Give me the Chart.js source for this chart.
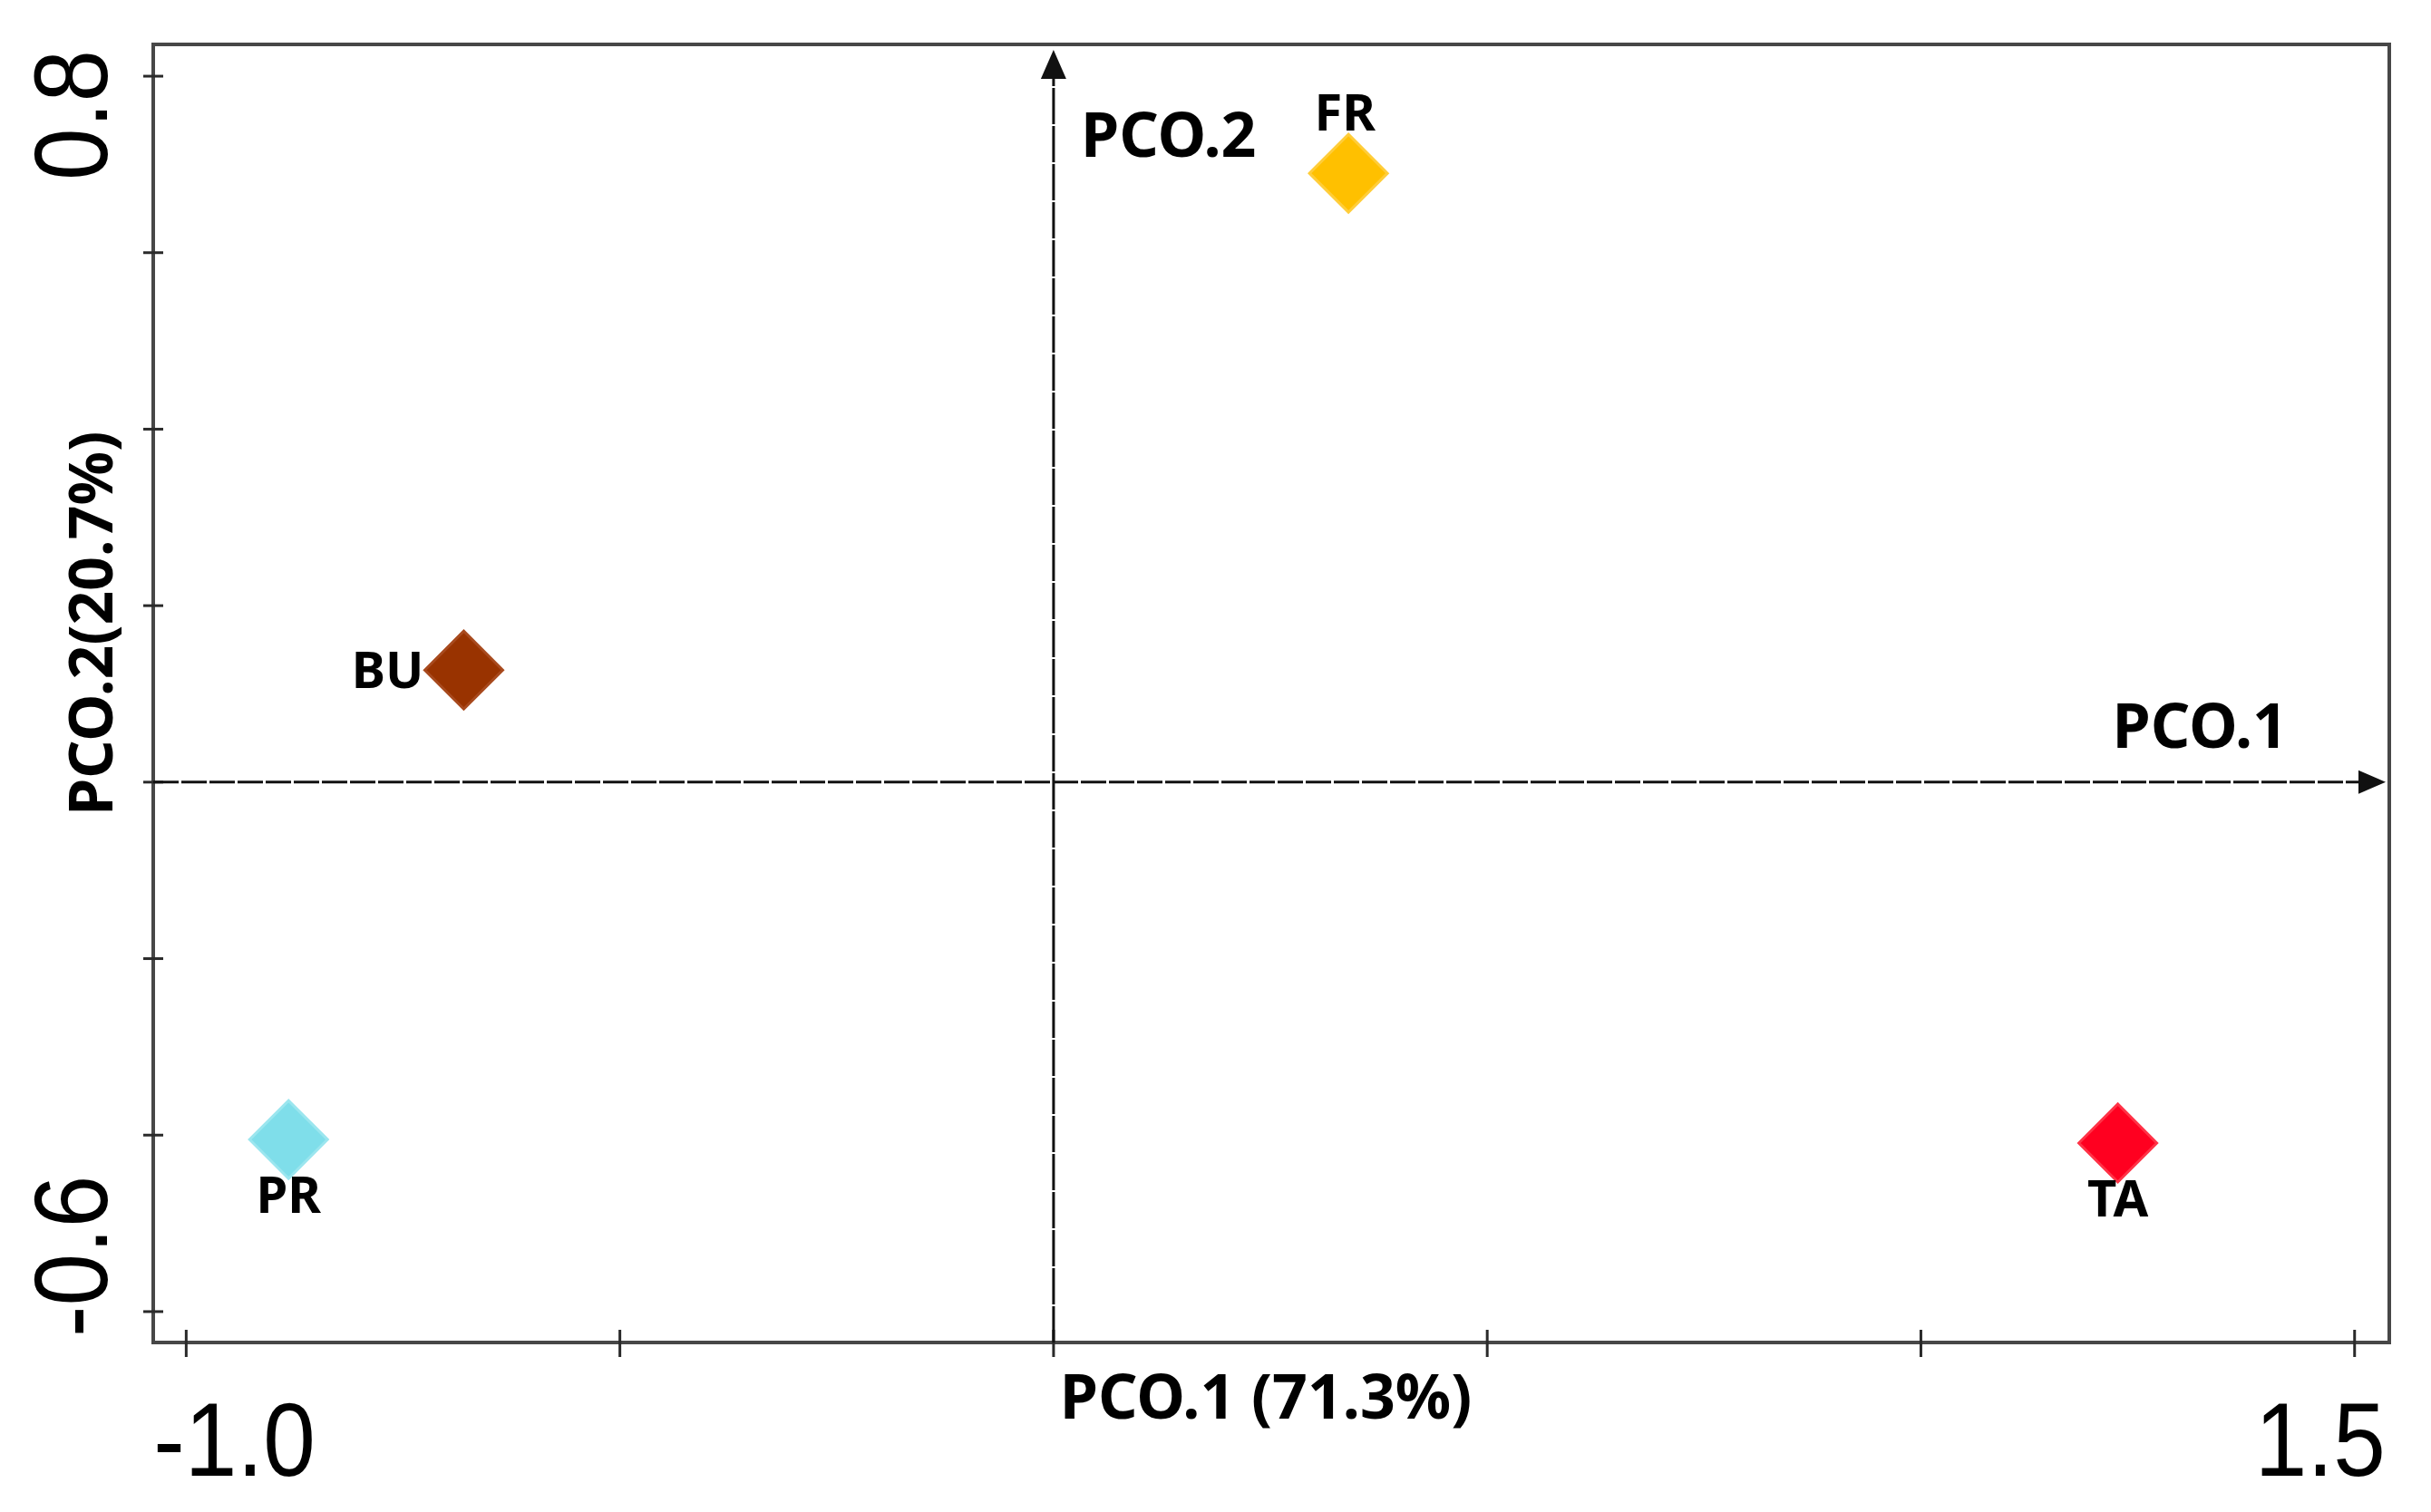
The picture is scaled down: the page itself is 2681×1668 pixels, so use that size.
<!DOCTYPE html>
<html>
<head>
<meta charset="utf-8">
<script src="https://cdn.jsdelivr.net/npm/chart.js@4.4.1/dist/chart.umd.min.js"></script>
<style>
  html, body { margin: 0; padding: 0; background: #fff; }
  #wrap { width: 2681px; height: 1668px; }
</style>
</head>
<body>
<div id="wrap"><canvas id="grafico" width="2681" height="1668"></canvas></div>
<script>
// PCoA scores per site
const sites = ["FR", "BU", "PR", "TA"];
const pco1 = [0.34, -0.68, -0.882, 1.227];
const pco2 = [0.69, 0.127, -0.405, -0.409];
const siteColors = ["#FFC000", "#993300", "#7FDEEA", "#FF0020"];
const siteEdges = ["#FFCD3A", "#A84A1E", "#9BE6EF", "#FF3347"];

const xTicks = [-1.0, -0.5, 0, 0.5, 1.0, 1.5];
const xTickLabels = ["-1.0", "", "", "", "", "1.5"];
const yTicks = [-0.6, -0.4, -0.2, 0, 0.2, 0.4, 0.6, 0.8];
const yTickLabels = ["-0.6", "", "", "", "", "", "", "0.8"];

const xTitle = "PCO.1 (71.3%)";
const yTitle = "PCO.2(20.7%)";
const xAxisName = "PCO.1";
const yAxisName = "PCO.2";

const ctx = document.getElementById("grafico").getContext("2d");

function seg(c, x1, y1, x2, y2) {
  c.beginPath();
  c.moveTo(x1, y1);
  c.lineTo(x2, y2);
  c.stroke();
}

function tri(c, pts) {
  c.beginPath();
  c.moveTo(pts[0], pts[1]);
  c.lineTo(pts[2], pts[3]);
  c.lineTo(pts[4], pts[5]);
  c.closePath();
  c.fill();
}

const pcoaPlugin = {
  id: "pcoa",
  beforeDatasetsDraw(chart) {
    const { ctx: c, chartArea: a, scales: { x, y } } = chart;
    const x0 = x.getPixelForValue(0);
    const y0 = y.getPixelForValue(0);
    c.save();

    // frame
    c.strokeStyle = "#474747";
    c.lineWidth = 4;
    c.strokeRect(a.left, a.top, a.right - a.left, a.bottom - a.top);

    // tick marks crossing the frame
    c.strokeStyle = "#2a2a2a";
    c.lineWidth = 3;
    xTicks.forEach(v => {
      const px = x.getPixelForValue(v);
      seg(c, px, a.bottom - 14, px, a.bottom + 16);
    });
    yTicks.forEach(v => {
      const py = y.getPixelForValue(v);
      seg(c, a.left - 11, py, a.left + 11, py);
    });

    // zero axes with arrows
    c.strokeStyle = "#111";
    c.fillStyle = "#111";
    c.lineWidth = 3;
    c.setLineDash([28, 3]);
    seg(c, a.left, y0, a.right - 30, y0);
    c.setLineDash([40, 2]);
    seg(c, x0, a.bottom, x0, a.top + 36);
    c.setLineDash([]);
    const tipX = a.right - 4;
    tri(c, [tipX, y0, tipX - 30, y0 - 13, tipX - 30, y0 + 13]);
    const tipY = a.top + 6;
    tri(c, [x0, tipY, x0 - 14, tipY + 32, x0 + 14, tipY + 32]);

    c.restore();
  },
  afterDatasetsDraw(chart, args, opts) {
    const { ctx: c, chartArea: a, scales: { x, y } } = chart;
    const x0 = x.getPixelForValue(0);
    const y0 = y.getPixelForValue(0);
    c.save();
    c.fillStyle = "#000";

    // tick labels (first/last pushed outward, like the original)
    c.font = '115px "Liberation Sans", Arial, sans-serif';
    c.textBaseline = "alphabetic";
    xTicks.forEach((v, i) => {
      const lab = xTickLabels[i];
      if (!lab) return;
      let px = x.getPixelForValue(v);
      let align = "center";
      if (i === 0) { align = "left"; px -= 36; }
      if (i === xTicks.length - 1) { align = "right"; px += 34; }
      c.save();
      c.translate(px, a.bottom + 147);
      c.scale(0.9, 1);
      c.textAlign = align;
      c.fillText(lab, 0, 0);
      c.restore();
    });
    yTicks.forEach((v, i) => {
      const lab = yTickLabels[i];
      if (!lab) return;
      let py = y.getPixelForValue(v);
      let align = "center";
      if (i === 0) { align = "left"; py += 28; }
      if (i === yTicks.length - 1) { align = "right"; py -= 29; }
      c.save();
      c.translate(a.left - 51, py);
      c.rotate(-Math.PI / 2);
      c.scale(0.9, 1);
      c.textAlign = align;
      c.fillText(lab, 0, 0);
      c.restore();
    });

    // axis titles
    c.font = 'bold 68px "Noto Sans", sans-serif';
    c.textAlign = "center";
    c.fillText(xTitle, (a.left + a.right) / 2 - 6, a.bottom + 84);
    c.font = 'bold 66px "Noto Sans", sans-serif';
    c.save();
    c.translate(124, a.top + 0.446 * (a.bottom - a.top));
    c.rotate(-Math.PI / 2);
    c.fillText(yTitle, 0, 0);
    c.restore();

    // names on the zero axes
    c.font = 'bold 68px "Noto Sans", sans-serif';
    c.textAlign = "left";
    c.fillText(yAxisName, x0 + 30, a.top + 124);
    c.textAlign = "right";
    c.fillText(xAxisName, a.right - 112, y0 - 38);

    // site labels
    c.font = 'bold 56px "Noto Sans", sans-serif';
    const meta = chart.getDatasetMeta(0);
    meta.data.forEach((pt, i) => {
      const where = opts.placement[sites[i]];
      if (where === "top") {
        c.textAlign = "center";
        c.fillText(sites[i], pt.x - 4, pt.y - 47);
      } else if (where === "left") {
        c.textAlign = "right";
        c.fillText(sites[i], pt.x - 44, pt.y + 20);
      } else {
        c.textAlign = "center";
        c.fillText(sites[i], pt.x, pt.y + 81);
      }
    });
    c.restore();
  }
};

new Chart(ctx, {
  type: "scatter",
  data: {
    datasets: [{
      label: "sites",
      data: sites.map((s, i) => ({ x: pco1[i], y: pco2[i] })),
      backgroundColor: siteColors,
      borderColor: siteEdges,
      borderWidth: 3,
      pointStyle: "rectRot",
      pointRadius: 43,
      pointHoverRadius: 43
    }]
  },
  options: {
    responsive: false,
    devicePixelRatio: 1,
    animation: false,
    layout: { padding: { left: 0, top: 49, right: 45, bottom: 0 } },
    plugins: {
      legend: { display: false },
      tooltip: { enabled: false },
      pcoa: { placement: { FR: "top", BU: "left", PR: "bottom", TA: "bottom" } }
    },
    scales: {
      x: {
        type: "linear",
        min: -1.038,
        max: 1.54,
        grid: { display: false },
        border: { display: false },
        ticks: { display: false },
        afterFit: (s) => { s.height = 187; }
      },
      y: {
        type: "linear",
        min: -0.635,
        max: 0.836,
        grid: { display: false },
        border: { display: false },
        ticks: { display: false },
        afterFit: (s) => { s.width = 169; }
      }
    }
  },
  plugins: [pcoaPlugin]
});
</script>
</body>
</html>
